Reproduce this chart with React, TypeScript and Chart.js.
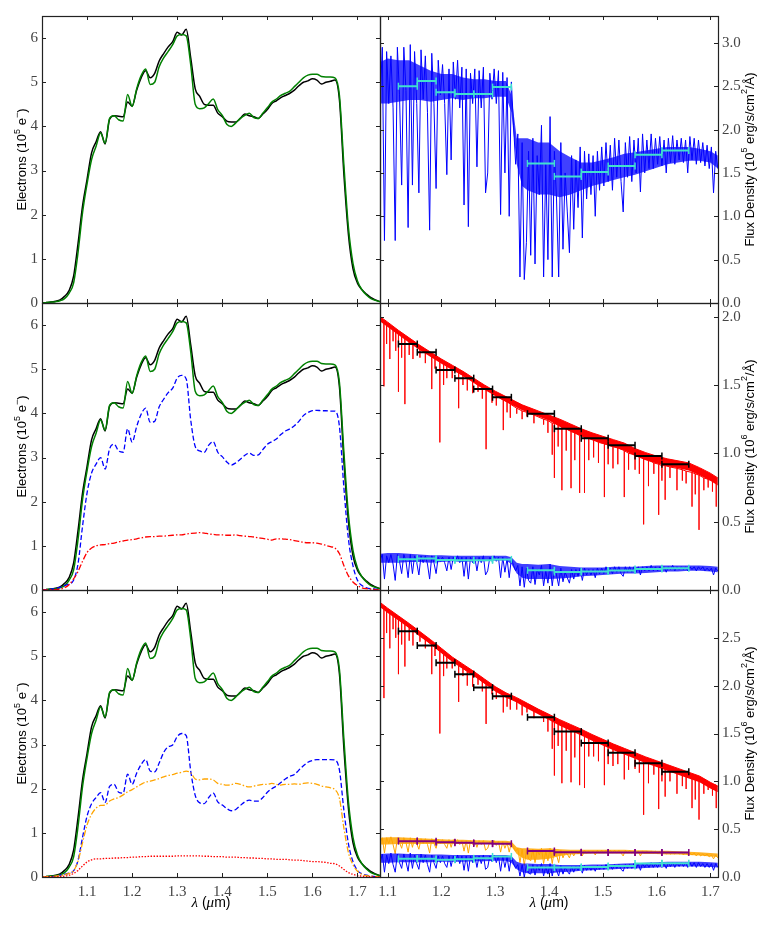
import React, { useEffect, useRef } from 'react';
import { Chart, registerables } from 'chart.js';

Chart.register(...registerables);

// ---- left column: detector electrons vs wavelength (1e5 e-) ----
const WAVE_E = [
  1.0, 1.01, 1.02, 1.03, 1.04, 1.05, 1.06, 1.07, 1.08, 1.09,
  1.1, 1.11, 1.12, 1.13, 1.14, 1.15, 1.16, 1.17, 1.18, 1.19,
  1.2, 1.21, 1.22, 1.23, 1.24, 1.25, 1.26, 1.27, 1.28, 1.29,
  1.3, 1.31, 1.32, 1.33, 1.34, 1.35, 1.36, 1.37, 1.38, 1.39,
  1.4, 1.41, 1.42, 1.43, 1.44, 1.45, 1.46, 1.47, 1.48, 1.49,
  1.5, 1.51, 1.52, 1.53, 1.54, 1.55, 1.56, 1.57, 1.58, 1.59,
  1.6, 1.61, 1.62, 1.63, 1.64, 1.65, 1.66, 1.67, 1.68, 1.69,
  1.7, 1.71, 1.72, 1.73, 1.74, 1.75,
];

const OBSERVED = [
  0.0, 0.01, 0.02, 0.04, 0.07, 0.15, 0.28, 0.6, 1.35, 2.2,
  2.8, 3.4, 3.65, 3.88, 3.6, 4.16, 4.24, 4.23, 4.22, 4.55,
  4.46, 4.82, 5.1, 5.26, 5.1, 5.2, 5.48, 5.65, 5.8, 5.92,
  6.13, 6.07, 6.2, 5.55, 4.85, 4.68, 4.5, 4.48, 4.48, 4.3,
  4.22, 4.12, 4.1, 4.1, 4.18, 4.28, 4.24, 4.22, 4.18, 4.28,
  4.38, 4.52, 4.58, 4.65, 4.7, 4.75, 4.82, 4.92, 5.0, 5.03,
  5.08, 5.05, 4.96, 5.0, 5.02, 5.05, 4.6, 2.9, 1.55, 0.78,
  0.45, 0.3, 0.2, 0.12, 0.07, 0.03,
];

const MODEL = [
  0.0, 0.01, 0.02, 0.03, 0.05, 0.1, 0.22, 0.45, 1.15, 2.05,
  2.7, 3.25, 3.55, 3.85, 3.62, 4.18, 4.24, 4.15, 4.12, 4.72,
  4.45, 4.85, 5.15, 5.3, 4.95, 5.0, 5.35, 5.55, 5.7, 5.85,
  6.05, 6.08, 6.05, 5.4, 4.5, 4.4, 4.42, 4.52, 4.62, 4.38,
  4.25, 4.05, 4.0, 4.08, 4.18, 4.25, 4.3, 4.2, 4.18, 4.3,
  4.42, 4.55, 4.62, 4.7, 4.75, 4.8, 4.9, 5.0, 5.1, 5.16,
  5.18, 5.18, 5.13, 5.12, 5.12, 5.1, 4.7, 3.1, 1.7, 0.9,
  0.5, 0.3, 0.18, 0.1, 0.06, 0.03,
];

const STAR_B = [
  0.0, 0.01, 0.02, 0.03, 0.06, 0.1, 0.14, 0.22, 0.6, 1.45,
  2.2, 2.65, 2.85, 3.0, 2.74, 3.2, 3.3, 3.15, 3.12, 3.65,
  3.35, 3.7, 3.98, 4.12, 3.8, 3.82, 4.15, 4.32, 4.47, 4.57,
  4.8, 4.86, 4.78, 3.85, 3.25, 3.15, 3.12, 3.28, 3.36, 3.12,
  3.02, 2.9, 2.83, 2.88, 2.96, 3.05, 3.1, 3.05, 3.06, 3.18,
  3.3, 3.36, 3.42, 3.52, 3.6, 3.65, 3.72, 3.82, 3.95, 4.02,
  4.06, 4.07, 4.06, 4.06, 4.05, 4.05, 3.7, 2.3, 1.15, 0.55,
  0.22, 0.1, 0.05, 0.03, 0.02, 0.01,
];

const COMPANION_B = [
  0.0, 0.0, 0.01, 0.01, 0.02, 0.05, 0.12, 0.25, 0.42, 0.65,
  0.85, 0.95, 1.0, 1.02, 1.03, 1.05, 1.06, 1.09, 1.11, 1.13,
  1.14, 1.16, 1.18, 1.2, 1.21, 1.21, 1.22, 1.22, 1.23, 1.24,
  1.25, 1.25, 1.27, 1.28, 1.29, 1.3, 1.29, 1.27, 1.26, 1.25,
  1.25, 1.24, 1.24, 1.25, 1.23, 1.22, 1.21, 1.2, 1.18, 1.17,
  1.15, 1.13, 1.16, 1.16, 1.15, 1.14, 1.12, 1.1, 1.08, 1.07,
  1.07, 1.06, 1.04, 1.01, 0.98, 0.95, 0.82, 0.55, 0.32, 0.18,
  0.1, 0.05, 0.03, 0.02, 0.01, 0.0,
];

const STAR_C = [
  0.0, 0.01, 0.01, 0.02, 0.04, 0.06, 0.09, 0.14, 0.38, 0.9,
  1.38, 1.66, 1.8, 1.91, 1.69, 2.05, 2.1, 1.92, 1.9, 2.33,
  2.1, 2.35, 2.55, 2.66, 2.4, 2.38, 2.58, 2.82, 2.95, 2.99,
  3.18, 3.25, 3.2, 2.4, 1.85, 1.68, 1.66, 1.8, 1.9, 1.7,
  1.63, 1.55, 1.5, 1.53, 1.62, 1.7, 1.74, 1.72, 1.72, 1.8,
  1.92, 2.0, 2.06, 2.14, 2.22, 2.28, 2.32, 2.42, 2.52, 2.6,
  2.64, 2.66, 2.66, 2.66, 2.66, 2.65, 2.42, 1.5, 0.75, 0.35,
  0.15, 0.07, 0.04, 0.02, 0.01, 0.01,
];

const COMPANION_C = [
  0.0, 0.01, 0.01, 0.02, 0.03, 0.05, 0.08, 0.14, 0.36, 0.78,
  1.18, 1.42, 1.56, 1.62, 1.63, 1.72, 1.77, 1.8, 1.86, 1.93,
  1.98, 2.04, 2.1, 2.15, 2.17, 2.2, 2.23, 2.27, 2.3, 2.32,
  2.35, 2.37, 2.4, 2.36, 2.22, 2.2, 2.22, 2.22, 2.2, 2.12,
  2.1, 2.08, 2.09, 2.12, 2.1, 2.06, 2.04, 2.06, 2.08, 2.1,
  2.1, 2.12, 2.1, 2.08, 2.1, 2.1, 2.11, 2.1, 2.12, 2.13,
  2.12, 2.1, 2.06, 2.04, 2.02, 1.98, 1.78, 1.1, 0.55, 0.28,
  0.13, 0.06, 0.03, 0.02, 0.01, 0.0,
];

const THIRD_C = [
  0.0, 0.0, 0.0, 0.0, 0.01, 0.02, 0.04, 0.08, 0.15, 0.25,
  0.34, 0.39, 0.41, 0.41, 0.42, 0.42, 0.43, 0.43, 0.44, 0.44,
  0.45, 0.45, 0.46, 0.46, 0.47, 0.47, 0.47, 0.47, 0.47, 0.47,
  0.48, 0.48, 0.48, 0.48, 0.48, 0.48, 0.47, 0.47, 0.46, 0.46,
  0.46, 0.45, 0.45, 0.45, 0.44, 0.44, 0.43, 0.43, 0.42, 0.42,
  0.41, 0.41, 0.4, 0.4, 0.4, 0.39, 0.38, 0.38, 0.37, 0.36,
  0.35, 0.35, 0.34, 0.33, 0.31, 0.3, 0.25, 0.17, 0.1, 0.06,
  0.03, 0.02, 0.01, 0.01, 0.0, 0.0,
];

// ---- right column: noisy spectra, sampled every 0.004 um from 1.086 ----
const SPEC_START = 1.086;
const SPEC_STEP = 0.004;

const TOP_BLUE = [
  2.35, 2.95, 0.72, 2.9, 2.3, 2.85, 2.25, 0.72, 2.95, 2.4,
  1.36, 2.95, 2.45, 0.87, 2.98, 1.36, 2.9, 2.3, 1.27, 2.92,
  2.35, 2.85, 2.2, 0.84, 2.88, 2.3, 1.32, 2.8, 2.4, 2.75,
  2.3, 1.48, 2.7, 1.65, 2.78, 2.35, 2.8, 2.25, 2.72, 1.13,
  2.7, 0.88, 2.65, 2.3, 2.7, 1.57, 2.68, 2.25, 2.72, 1.27,
  1.5, 2.65, 2.35, 2.7, 2.3, 2.68, 1.02, 2.66, 1.5, 2.6,
  1.0, 2.55, 2.05, 1.6, 1.95, 0.3, 1.85, 0.27, 0.7, 1.75,
  0.55, 1.9, 0.45, 1.7, 1.25, 2.05, 0.3, 1.6, 0.5, 2.15,
  0.3, 1.75, 1.2, 0.3, 1.85, 0.62, 1.5, 1.05, 0.58, 1.7,
  0.85, 1.65, 1.1, 1.8, 0.75, 1.75, 1.2, 1.72, 1.25, 1.7,
  1.0, 1.75, 1.3, 1.8, 1.35, 1.85, 1.4, 1.82, 1.3, 1.9,
  1.45, 1.88, 1.4, 1.05, 1.85, 1.45, 1.92, 1.4, 1.88, 1.5,
  1.9, 1.28, 1.95, 1.5, 1.88, 1.55, 1.95, 1.55, 1.9, 1.6,
  1.92, 1.58, 1.88, 1.5, 1.9, 1.62, 1.93, 1.6, 1.88, 1.65,
  1.9, 1.62, 1.88, 1.5, 1.92, 1.65, 1.9, 1.6, 1.88, 1.62,
  1.85, 1.58, 1.82, 1.55, 1.8, 1.27, 1.75, 1.55,
];

const MID_BLUE = [
  0.22, 0.26, 0.08, 0.25, 0.2, 0.26, 0.19, 0.07, 0.26, 0.21,
  0.12, 0.26, 0.21, 0.09, 0.26, 0.12, 0.25, 0.2, 0.11, 0.25,
  0.2, 0.25, 0.19, 0.08, 0.25, 0.2, 0.12, 0.24, 0.21, 0.24,
  0.2, 0.14, 0.24, 0.15, 0.24, 0.21, 0.25, 0.2, 0.24, 0.1,
  0.24, 0.08, 0.24, 0.2, 0.24, 0.14, 0.24, 0.2, 0.25, 0.11,
  0.14, 0.24, 0.21, 0.25, 0.21, 0.24, 0.09, 0.24, 0.13, 0.23,
  0.09, 0.23, 0.18, 0.14, 0.18, 0.03, 0.17, 0.02, 0.16, 0.07,
  0.05, 0.17, 0.04, 0.15, 0.11, 0.18, 0.03, 0.14, 0.05, 0.19,
  0.03, 0.16, 0.11, 0.03, 0.16, 0.06, 0.13, 0.09, 0.05, 0.15,
  0.08, 0.15, 0.1, 0.16, 0.07, 0.16, 0.11, 0.15, 0.11, 0.15,
  0.09, 0.16, 0.12, 0.16, 0.12, 0.17, 0.13, 0.16, 0.12, 0.17,
  0.13, 0.17, 0.12, 0.1, 0.17, 0.13, 0.17, 0.13, 0.17, 0.13,
  0.17, 0.11, 0.17, 0.14, 0.17, 0.14, 0.18, 0.14, 0.17, 0.14,
  0.17, 0.14, 0.17, 0.13, 0.17, 0.15, 0.18, 0.14, 0.17, 0.15,
  0.17, 0.15, 0.17, 0.14, 0.17, 0.15, 0.17, 0.14, 0.17, 0.15,
  0.17, 0.14, 0.16, 0.14, 0.16, 0.11, 0.16, 0.14,
];

const BOT_ORANGE = [
  0.36, 0.41, 0.25, 0.41, 0.35, 0.42, 0.34, 0.24, 0.41, 0.36,
  0.3, 0.41, 0.36, 0.26, 0.41, 0.31, 0.4, 0.35, 0.29, 0.4,
  0.35, 0.4, 0.34, 0.25, 0.4, 0.35, 0.3, 0.39, 0.35, 0.39,
  0.34, 0.3, 0.39, 0.31, 0.39, 0.35, 0.39, 0.34, 0.38, 0.27,
  0.38, 0.25, 0.38, 0.34, 0.38, 0.31, 0.38, 0.34, 0.38, 0.28,
  0.3, 0.37, 0.34, 0.38, 0.33, 0.37, 0.26, 0.37, 0.3, 0.36,
  0.26, 0.36, 0.31, 0.27, 0.3, 0.15, 0.29, 0.12, 0.28, 0.19,
  0.17, 0.29, 0.15, 0.28, 0.23, 0.3, 0.14, 0.27, 0.17, 0.3,
  0.14, 0.28, 0.23, 0.15, 0.28, 0.2, 0.26, 0.24, 0.2, 0.27,
  0.22, 0.27, 0.24, 0.28, 0.22, 0.28, 0.25, 0.27, 0.25, 0.27,
  0.23, 0.28, 0.25, 0.28, 0.25, 0.28, 0.25, 0.28, 0.25, 0.28,
  0.25, 0.28, 0.25, 0.22, 0.28, 0.25, 0.28, 0.25, 0.27, 0.25,
  0.27, 0.22, 0.27, 0.25, 0.27, 0.25, 0.27, 0.25, 0.27, 0.24,
  0.27, 0.24, 0.27, 0.24, 0.26, 0.24, 0.26, 0.24, 0.26, 0.24,
  0.26, 0.23, 0.26, 0.23, 0.25, 0.23, 0.25, 0.22, 0.25, 0.22,
  0.24, 0.22, 0.24, 0.21, 0.23, 0.19, 0.23, 0.2,
];

const BOT_BLUE = [
  0.15, 0.24, 0.05, 0.23, 0.14, 0.25, 0.13, 0.05, 0.24, 0.15,
  0.09, 0.24, 0.16, 0.06, 0.25, 0.09, 0.23, 0.14, 0.08, 0.24,
  0.15, 0.23, 0.13, 0.05, 0.23, 0.15, 0.09, 0.22, 0.15, 0.22,
  0.14, 0.1, 0.22, 0.11, 0.22, 0.15, 0.23, 0.14, 0.22, 0.07,
  0.22, 0.06, 0.22, 0.15, 0.22, 0.1, 0.22, 0.14, 0.23, 0.08,
  0.1, 0.22, 0.16, 0.23, 0.15, 0.22, 0.06, 0.22, 0.1, 0.21,
  0.06, 0.21, 0.14, 0.09, 0.13, 0.01, 0.13, 0.0, 0.12, 0.04,
  0.03, 0.13, 0.02, 0.12, 0.07, 0.14, 0.01, 0.11, 0.03, 0.14,
  0.01, 0.12, 0.07, 0.01, 0.12, 0.03, 0.1, 0.06, 0.03, 0.11,
  0.05, 0.11, 0.07, 0.12, 0.04, 0.12, 0.07, 0.11, 0.07, 0.11,
  0.06, 0.12, 0.08, 0.12, 0.08, 0.13, 0.09, 0.12, 0.08, 0.13,
  0.09, 0.13, 0.08, 0.06, 0.13, 0.09, 0.13, 0.09, 0.14, 0.09,
  0.14, 0.07, 0.14, 0.1, 0.14, 0.1, 0.15, 0.1, 0.14, 0.1,
  0.15, 0.1, 0.14, 0.09, 0.15, 0.11, 0.15, 0.1, 0.15, 0.11,
  0.15, 0.11, 0.15, 0.1, 0.15, 0.11, 0.15, 0.1, 0.15, 0.11,
  0.14, 0.1, 0.14, 0.1, 0.14, 0.07, 0.14, 0.1,
];

// ---- dense part of each spectrum: upper / lower envelope ----
const BAND_WAVE = [
  1.086, 1.1, 1.12, 1.14, 1.16, 1.18, 1.2, 1.22, 1.24, 1.26, 1.28, 1.3, 1.32,
  1.33, 1.34, 1.35, 1.36, 1.38, 1.4, 1.42, 1.44, 1.46, 1.48, 1.5, 1.52,
  1.54, 1.56, 1.58, 1.6, 1.62, 1.64, 1.66, 1.68, 1.7, 1.714,
];

const TOP_BLUE_HI = [
  2.78, 2.82, 2.8, 2.8, 2.74, 2.68, 2.64, 2.64, 2.6, 2.58, 2.58, 2.56, 2.56,
  2.4, 1.9, 1.9, 1.9, 1.85, 1.85, 1.75, 1.68, 1.62, 1.62, 1.65, 1.68,
  1.72, 1.74, 1.76, 1.78, 1.8, 1.8, 1.8, 1.78, 1.75, 1.7,
];
const TOP_BLUE_LO = [
  2.3, 2.3, 2.32, 2.34, 2.34, 2.32, 2.34, 2.36, 2.34, 2.36, 2.36, 2.38, 2.38,
  2.2, 1.6, 1.35, 1.3, 1.25, 1.25, 1.22, 1.25, 1.3, 1.35, 1.38, 1.42,
  1.45, 1.48, 1.52, 1.56, 1.6, 1.62, 1.64, 1.64, 1.62, 1.55,
];

const MID_RED_HI = [
  2.0, 1.96, 1.9, 1.845, 1.79, 1.74, 1.69, 1.645, 1.6, 1.55, 1.5, 1.455, 1.415,
  1.395, 1.375, 1.355, 1.34, 1.31, 1.28, 1.25, 1.215, 1.18, 1.15, 1.125, 1.1,
  1.075, 1.035, 1.005, 0.98, 0.96, 0.945, 0.93, 0.895, 0.855, 0.82,
];
const MID_RED_LO = [
  1.965, 1.925, 1.865, 1.81, 1.755, 1.705, 1.655, 1.61, 1.565, 1.515, 1.465, 1.42, 1.375,
  1.355, 1.335, 1.315, 1.3, 1.27, 1.24, 1.195, 1.16, 1.125, 1.095, 1.07, 1.045,
  1.02, 0.98, 0.95, 0.925, 0.905, 0.89, 0.875, 0.84, 0.8, 0.765,
];

const MID_BLUE_HI = [
  0.265, 0.27, 0.27, 0.265, 0.26, 0.255, 0.255, 0.25, 0.25, 0.25, 0.25, 0.25, 0.25,
  0.24, 0.2, 0.19, 0.19, 0.185, 0.19, 0.175, 0.17, 0.165, 0.165, 0.165, 0.17,
  0.17, 0.17, 0.175, 0.18, 0.18, 0.18, 0.18, 0.18, 0.175, 0.17,
];
const MID_BLUE_LO = [
  0.2, 0.2, 0.2, 0.205, 0.205, 0.2, 0.205, 0.21, 0.205, 0.21, 0.21, 0.215, 0.215,
  0.19, 0.12, 0.09, 0.08, 0.08, 0.08, 0.085, 0.09, 0.1, 0.105, 0.11, 0.115,
  0.12, 0.12, 0.125, 0.13, 0.135, 0.135, 0.14, 0.14, 0.135, 0.13,
];

const BOT_RED_HI = [
  2.87, 2.81, 2.73, 2.65, 2.565, 2.48, 2.39, 2.3, 2.225, 2.15, 2.07, 1.99, 1.925,
  1.9, 1.875, 1.845, 1.815, 1.755, 1.7, 1.645, 1.595, 1.545, 1.49, 1.44, 1.39,
  1.345, 1.3, 1.255, 1.215, 1.175, 1.135, 1.095, 1.055, 0.99, 0.95,
];
const BOT_RED_LO = [
  2.82, 2.76, 2.68, 2.6, 2.515, 2.43, 2.34, 2.25, 2.175, 2.1, 2.02, 1.94, 1.875,
  1.85, 1.825, 1.79, 1.76, 1.7, 1.64, 1.58, 1.53, 1.48, 1.425, 1.375, 1.325,
  1.28, 1.235, 1.19, 1.15, 1.11, 1.07, 1.03, 0.99, 0.925, 0.885,
];

const BOT_ORANGE_HI = [
  0.41, 0.415, 0.415, 0.41, 0.405, 0.4, 0.395, 0.39, 0.39, 0.385, 0.385, 0.38, 0.38,
  0.37, 0.31, 0.3, 0.3, 0.295, 0.3, 0.29, 0.285, 0.285, 0.285, 0.285, 0.285,
  0.285, 0.28, 0.28, 0.275, 0.275, 0.27, 0.265, 0.26, 0.25, 0.245,
];
const BOT_ORANGE_LO = [
  0.34, 0.34, 0.345, 0.345, 0.345, 0.345, 0.345, 0.345, 0.345, 0.345, 0.345, 0.345, 0.345,
  0.32, 0.24, 0.2, 0.18, 0.18, 0.19, 0.22, 0.235, 0.24, 0.245, 0.245, 0.245,
  0.245, 0.245, 0.24, 0.24, 0.235, 0.235, 0.23, 0.225, 0.215, 0.21,
];

const BOT_BLUE_HI = [
  0.24, 0.245, 0.245, 0.24, 0.24, 0.235, 0.235, 0.23, 0.23, 0.23, 0.23, 0.23, 0.23,
  0.22, 0.16, 0.14, 0.14, 0.135, 0.135, 0.125, 0.125, 0.125, 0.13, 0.13, 0.135,
  0.14, 0.145, 0.15, 0.155, 0.16, 0.16, 0.16, 0.16, 0.155, 0.15,
];
const BOT_BLUE_LO = [
  0.15, 0.15, 0.155, 0.155, 0.155, 0.155, 0.16, 0.16, 0.16, 0.165, 0.165, 0.17, 0.17,
  0.15, 0.08, 0.05, 0.04, 0.04, 0.04, 0.05, 0.055, 0.065, 0.07, 0.075, 0.08,
  0.085, 0.09, 0.095, 0.1, 0.105, 0.11, 0.11, 0.11, 0.105, 0.1,
];

// ---- absorption lines of the bright source: [wavelength, band level, line bottom] ----
const MID_RED_LINES = [
  [1.093, 1.96, 1.49], [1.098, 1.95, 1.8], [1.104, 1.93, 1.69], [1.11, 1.92, 1.82], [1.115, 1.9, 1.75],
  [1.12, 1.88, 1.45], [1.126, 1.87, 1.7], [1.132, 1.85, 1.36], [1.14, 1.83, 1.72], [1.147, 1.81, 1.69],
  [1.16, 1.77, 1.7], [1.17, 1.74, 1.66], [1.182, 1.71, 1.47], [1.188, 1.7, 1.62], [1.197, 1.67, 1.08],
  [1.204, 1.66, 1.5], [1.21, 1.64, 1.55], [1.22, 1.62, 1.55], [1.232, 1.59, 1.33], [1.24, 1.57, 1.5],
  [1.248, 1.55, 1.46], [1.258, 1.53, 1.44], [1.268, 1.5, 1.45], [1.276, 1.48, 1.4], [1.283, 1.47, 1.03],
  [1.294, 1.44, 1.37], [1.302, 1.42, 1.35], [1.315, 1.39, 1.17], [1.322, 1.38, 1.3], [1.328, 1.36, 1.26],
  [1.34, 1.33, 1.29], [1.35, 1.31, 1.25], [1.359, 1.3, 1.27], [1.372, 1.28, 1.22], [1.39, 1.25, 1.21],
  [1.398, 1.24, 1.15], [1.406, 1.22, 0.99], [1.41, 1.22, 0.82], [1.417, 1.21, 1.05], [1.424, 1.19, 0.73],
  [1.432, 1.18, 1.02], [1.441, 1.16, 0.745], [1.448, 1.15, 0.95], [1.457, 1.13, 0.71], [1.466, 1.12, 0.71],
  [1.474, 1.11, 0.95], [1.483, 1.1, 0.97], [1.492, 1.08, 0.93], [1.503, 1.07, 0.68], [1.51, 1.06, 0.92],
  [1.519, 1.05, 0.89], [1.528, 1.04, 0.92], [1.54, 1.02, 0.68], [1.548, 1.0, 0.88], [1.56, 0.99, 0.88],
  [1.568, 0.98, 0.85], [1.576, 0.96, 0.48], [1.585, 0.95, 0.76], [1.595, 0.93, 0.85], [1.604, 0.92, 0.55],
  [1.61, 0.91, 0.8], [1.616, 0.91, 0.66], [1.625, 0.9, 0.82], [1.638, 0.89, 0.73], [1.648, 0.88, 0.8],
  [1.655, 0.87, 0.78], [1.666, 0.86, 0.61], [1.672, 0.85, 0.7], [1.679, 0.84, 0.44], [1.688, 0.82, 0.73],
  [1.696, 0.81, 0.75], [1.704, 0.8, 0.72], [1.711, 0.79, 0.61],
];

const BOT_RED_LINES = [
  [1.093, 2.8, 1.87], [1.098, 2.79, 2.55], [1.104, 2.76, 2.39], [1.11, 2.73, 2.59], [1.115, 2.71, 2.5],
  [1.12, 2.69, 2.12], [1.126, 2.67, 2.43], [1.132, 2.64, 2.2], [1.14, 2.61, 2.47], [1.147, 2.58, 2.42],
  [1.16, 2.52, 2.46], [1.17, 2.48, 2.39], [1.182, 2.43, 2.12], [1.188, 2.4, 2.31], [1.197, 2.36, 1.5],
  [1.204, 2.33, 2.1], [1.21, 2.3, 2.18], [1.22, 2.26, 2.18], [1.232, 2.21, 1.83], [1.24, 2.18, 2.1],
  [1.248, 2.15, 2.0], [1.258, 2.11, 1.99], [1.268, 2.08, 2.01], [1.276, 2.04, 1.94], [1.283, 2.02, 1.6],
  [1.294, 1.98, 1.91], [1.302, 1.95, 1.86], [1.315, 1.91, 1.72], [1.322, 1.89, 1.78], [1.328, 1.87, 1.75],
  [1.34, 1.84, 1.75], [1.35, 1.81, 1.69], [1.359, 1.78, 1.72], [1.372, 1.74, 1.66], [1.39, 1.69, 1.62],
  [1.398, 1.67, 1.52], [1.406, 1.65, 1.34], [1.41, 1.64, 1.06], [1.417, 1.62, 1.37], [1.424, 1.6, 0.98],
  [1.432, 1.58, 1.32], [1.441, 1.56, 0.99], [1.448, 1.54, 1.25], [1.457, 1.52, 0.96], [1.466, 1.5, 0.93],
  [1.474, 1.48, 1.26], [1.483, 1.45, 1.26], [1.492, 1.43, 1.21], [1.503, 1.4, 0.96], [1.51, 1.39, 1.18],
  [1.519, 1.36, 1.16], [1.528, 1.34, 1.18], [1.54, 1.31, 1.02], [1.548, 1.3, 1.12], [1.56, 1.27, 1.13],
  [1.568, 1.25, 1.09], [1.576, 1.23, 0.65], [1.585, 1.21, 0.98], [1.595, 1.19, 1.07], [1.604, 1.18, 0.71],
  [1.61, 1.17, 1.0], [1.616, 1.15, 0.84], [1.625, 1.14, 1.0], [1.638, 1.11, 0.87], [1.648, 1.09, 0.95],
  [1.655, 1.08, 0.92], [1.666, 1.05, 0.72], [1.672, 1.04, 0.81], [1.679, 1.03, 0.6], [1.688, 1.01, 0.87],
  [1.696, 0.99, 0.91], [1.704, 0.97, 0.85], [1.711, 0.96, 0.72],
];

// ---- binned photometry (two grisms) ----
const BIN_EDGES_A = [1.12, 1.155, 1.19, 1.225, 1.26, 1.295, 1.33];
const BIN_EDGES_B = [1.36, 1.41, 1.46, 1.51, 1.56, 1.61, 1.66];

const TOP_CYAN_BINS = [2.5, 2.56, 2.43, 2.41, 2.41, 2.49, 1.61, 1.46, 1.51, 1.58, 1.71, 1.76];
const MID_BLACK_BINS = [1.8, 1.74, 1.61, 1.55, 1.47, 1.41, 1.29, 1.18, 1.11, 1.06, 0.98, 0.92];
const MID_CYAN_BINS = [0.225, 0.23, 0.219, 0.217, 0.217, 0.224, 0.144, 0.131, 0.136, 0.142, 0.153, 0.159];
const BOT_BLACK_BINS = [2.57, 2.42, 2.24, 2.12, 1.98, 1.89, 1.67, 1.52, 1.4, 1.3, 1.19, 1.1];
const BOT_PURPLE_BINS = [0.375, 0.375, 0.364, 0.357, 0.35, 0.348, 0.272, 0.258, 0.257, 0.257, 0.257, 0.257];
const BOT_CYAN_BINS = [0.19, 0.19, 0.18, 0.185, 0.195, 0.215, 0.1, 0.1, 0.105, 0.115, 0.14, 0.143];

const X_TICKS = [1.1, 1.2, 1.3, 1.4, 1.5, 1.6, 1.7];
const LEFT_Y_TICKS = [0, 1, 2, 3, 4, 5, 6];
const TOP_RIGHT_TICKS = [0, 0.5, 1.0, 1.5, 2.0, 2.5, 3.0];
const MID_RIGHT_TICKS = [0, 0.5, 1.0, 1.5, 2.0];
const BOT_RIGHT_TICKS = [0, 0.5, 1.0, 1.5, 2.0, 2.5];

// ---- layout ----
const COL_LEFT = [42, 380];
const ROW_TOP = [16, 303, 590];
const PLOT_W = 338;
const PLOT_H = 287;

const SANS = '"Liberation Sans", Arial, sans-serif';
const SERIF = '"Liberation Serif", "DejaVu Serif", serif';

const SPEC_WAVE = TOP_BLUE.map((_, i) => SPEC_START + SPEC_STEP * i);

type Seg = { t: string; font: string; dy?: number };

const sup = (t: string): Seg => ({ t, font: `9px ${SANS}`, dy: -5 });
const txt = (t: string): Seg => ({ t, font: `13px ${SANS}` });

const electronsTitle: Seg[] = [txt('Electrons (10'), sup('5'), txt(' e'), sup('\u2212'), txt(')')];
const fluxTitle = (p: string): Seg[] => [txt('Flux Density (10'), sup(p), txt(' erg/s/cm'), sup('2'), txt('/\u00c5)')];
const lambdaTitle: Seg[] = [
  { t: '\u03bb', font: `italic 15px ${SERIF}` },
  { t: ' (', font: `14px ${SANS}` },
  { t: '\u03bc', font: `italic 15px ${SERIF}` },
  { t: 'm)', font: `14px ${SANS}` },
];

function drawRich(ctx: CanvasRenderingContext2D, segs: Seg[], cx: number, cy: number, rot: number) {
  ctx.save();
  ctx.translate(cx, cy);
  ctx.rotate(rot);
  ctx.fillStyle = '#000';
  ctx.textBaseline = 'middle';
  ctx.textAlign = 'left';
  let total = 0;
  for (const s of segs) {
    ctx.font = s.font;
    total += ctx.measureText(s.t).width;
  }
  let x = -total / 2;
  for (const s of segs) {
    ctx.font = s.font;
    ctx.fillText(s.t, x, s.dy ?? 0);
    x += ctx.measureText(s.t).width;
  }
  ctx.restore();
}

const framePlugin = {
  id: 'frame',
  afterDatasetsDraw(chart: any) {
    const { ctx, chartArea: a, scales } = chart;
    ctx.save();
    ctx.strokeStyle = '#222';
    ctx.lineWidth = 1;
    ctx.beginPath();
    for (const t of scales.x.ticks) {
      const px = Math.round(scales.x.getPixelForValue(t.value)) + 0.5;
      ctx.moveTo(px, a.bottom);
      ctx.lineTo(px, a.bottom - 4);
      ctx.moveTo(px, a.top);
      ctx.lineTo(px, a.top + 4);
    }
    for (const t of scales.y.ticks) {
      const py = Math.round(scales.y.getPixelForValue(t.value)) + 0.5;
      ctx.moveTo(a.left, py);
      ctx.lineTo(a.left + 4, py);
      ctx.moveTo(a.right, py);
      ctx.lineTo(a.right - 4, py);
    }
    ctx.stroke();
    ctx.lineWidth = 1.2;
    ctx.strokeRect(a.left + 0.5, a.top + 0.5, a.right - a.left, a.bottom - a.top);
    ctx.restore();
  },
  afterDraw(chart: any, _args: any, opts: any) {
    const { ctx, chartArea: a } = chart;
    const cy = (a.top + a.bottom) / 2;
    if (opts.side === 'left') drawRich(ctx, opts.yTitle, a.left - 19.5, cy, -Math.PI / 2);
    else drawRich(ctx, opts.yTitle, a.right + 32, cy, -Math.PI / 2);
    if (opts.xTitle) drawRich(ctx, lambdaTitle, (a.left + a.right) / 2, a.bottom + 26, 0);
  },
};

const curve = (xs: number[], ys: number[], color: string, width: number, dash: number[] = [], smooth = true) => ({
  data: xs.map((x, i) => ({ x, y: ys[i] })),
  borderColor: color,
  borderWidth: width,
  borderDash: dash,
  pointRadius: 0,
  fill: false,
  cubicInterpolationMode: smooth ? 'monotone' : 'default',
  tension: 0,
});

// filled envelope: two datasets, the second fills back to the first
const band = (hi: number[], lo: number[], edge: number, fillColor: string) => [
  {
    data: BAND_WAVE.map((x, i) => ({ x, y: hi[i] })),
    borderColor: fillColor,
    borderWidth: edge,
    pointRadius: 0,
    fill: false,
    tension: 0,
  },
  {
    data: BAND_WAVE.map((x, i) => ({ x, y: lo[i] })),
    borderColor: fillColor,
    borderWidth: 0,
    backgroundColor: fillColor,
    pointRadius: 0,
    fill: '-1',
    tension: 0,
  },
];

const lines = (list: number[][], color: string) => ({
  data: list.flatMap(([x, top, bottom]) => [
    { x, y: top },
    { x, y: bottom },
    { x, y: top },
  ]),
  borderColor: color,
  borderWidth: 1,
  pointRadius: 0,
  fill: false,
  tension: 0,
});

const binSet = (vals: number[], color: string) => {
  const data: { x: number; y: number | null }[] = [];
  let k = 0;
  for (const edges of [BIN_EDGES_A, BIN_EDGES_B]) {
    for (let j = 0; j < edges.length - 1; j++) {
      data.push({ x: edges[j], y: vals[k] }, { x: edges[j + 1], y: vals[k] }, { x: edges[j + 1], y: null });
      k++;
    }
  }
  return {
    data,
    borderColor: color,
    borderWidth: 2,
    pointStyle: 'line',
    rotation: 90,
    pointRadius: 3.5,
    pointBorderColor: color,
    pointBorderWidth: 1.5,
    spanGaps: false,
    fill: false,
    tension: 0,
  };
};

// later entries are painted on top of earlier ones
const stacked = (list: any[]) => list.map((d, i) => ({ ...d, order: list.length - i }));

type PanelDef = {
  col: number;
  row: number;
  yMax: number;
  yTicks: number[];
  yTitle: Seg[];
  datasets: any[];
};

const BLUE = '#0000ff';
const BLUE_FILL = 'rgba(0, 0, 255, 0.75)';
const RED = '#ff0000';
const ORANGE = '#ffa500';
const ORANGE_FILL = 'rgba(255, 165, 0, 0.85)';
const CYAN = '#40e0d0';

const PANELS: PanelDef[] = [
  {
    col: 0, row: 0, yMax: 6.5, yTicks: LEFT_Y_TICKS, yTitle: electronsTitle,
    datasets: stacked([curve(WAVE_E, OBSERVED, '#000000', 1.5), curve(WAVE_E, MODEL, '#008000', 1.5)]),
  },
  {
    col: 1, row: 0, yMax: 3.31, yTicks: TOP_RIGHT_TICKS, yTitle: fluxTitle('5'),
    datasets: stacked([
      ...band(TOP_BLUE_HI, TOP_BLUE_LO, 0, BLUE_FILL),
      curve(SPEC_WAVE, TOP_BLUE, BLUE, 1, [], false),
      binSet(TOP_CYAN_BINS, CYAN),
    ]),
  },
  {
    col: 0, row: 1, yMax: 6.5, yTicks: LEFT_Y_TICKS, yTitle: electronsTitle,
    datasets: stacked([
      curve(WAVE_E, OBSERVED, '#000000', 1.5),
      curve(WAVE_E, MODEL, '#008000', 1.5),
      curve(WAVE_E, STAR_B, BLUE, 1.3, [5, 2.5]),
      curve(WAVE_E, COMPANION_B, RED, 1.3, [6, 2, 1.5, 2]),
    ]),
  },
  {
    col: 1, row: 1, yMax: 2.1, yTicks: MID_RIGHT_TICKS, yTitle: fluxTitle('6'),
    datasets: stacked([
      ...band(MID_RED_HI, MID_RED_LO, 1, RED),
      lines(MID_RED_LINES, RED),
      binSet(MID_BLACK_BINS, '#000000'),
      ...band(MID_BLUE_HI, MID_BLUE_LO, 0, BLUE_FILL),
      curve(SPEC_WAVE, MID_BLUE, BLUE, 1, [], false),
      binSet(MID_CYAN_BINS, CYAN),
    ]),
  },
  {
    col: 0, row: 2, yMax: 6.5, yTicks: LEFT_Y_TICKS, yTitle: electronsTitle,
    datasets: stacked([
      curve(WAVE_E, OBSERVED, '#000000', 1.5),
      curve(WAVE_E, MODEL, '#008000', 1.5),
      curve(WAVE_E, STAR_C, BLUE, 1.3, [5, 2.5]),
      curve(WAVE_E, COMPANION_C, ORANGE, 1.3, [6, 2, 1.5, 2]),
      curve(WAVE_E, THIRD_C, RED, 1.3, [1.5, 1.5]),
    ]),
  },
  {
    col: 1, row: 2, yMax: 3.0, yTicks: BOT_RIGHT_TICKS, yTitle: fluxTitle('6'),
    datasets: stacked([
      ...band(BOT_RED_HI, BOT_RED_LO, 1, RED),
      lines(BOT_RED_LINES, RED),
      binSet(BOT_BLACK_BINS, '#000000'),
      ...band(BOT_ORANGE_HI, BOT_ORANGE_LO, 0, ORANGE_FILL),
      curve(SPEC_WAVE, BOT_ORANGE, ORANGE, 1, [], false),
      binSet(BOT_PURPLE_BINS, '#800080'),
      ...band(BOT_BLUE_HI, BOT_BLUE_LO, 0, BLUE_FILL),
      curve(SPEC_WAVE, BOT_BLUE, BLUE, 1, [], false),
      binSet(BOT_CYAN_BINS, CYAN),
    ]),
  },
];

function Panel({ def }: { def: PanelDef }) {
  const canvas = useRef<HTMLCanvasElement>(null);
  const left = def.col === 0;
  const bottomRow = def.row === 2;
  const padL = left ? 0 : 8;
  const padR = left ? 6 : 0;
  const axisW = left ? 42 : 54;
  const padT = 16;
  const axisH = bottomRow ? 50 : 16;
  const width = left ? axisW + PLOT_W + padR : padL + PLOT_W + axisW;
  const height = padT + PLOT_H + axisH;
  const cssLeft = left ? COL_LEFT[0] - axisW : COL_LEFT[1] - padL;
  const cssTop = ROW_TOP[def.row] - padT;

  useEffect(() => {
    if (!canvas.current) return;
    const tickFont = { family: SERIF, size: 15 };
    const chart = new Chart(canvas.current, {
      type: 'line',
      data: { datasets: def.datasets },
      plugins: [framePlugin],
      options: {
        animation: false,
        responsive: false,
        events: [],
        layout: { padding: { top: padT, bottom: 0, left: padL, right: padR } },
        plugins: {
          legend: { display: false },
          tooltip: { enabled: false },
          frame: { side: left ? 'left' : 'right', yTitle: def.yTitle, xTitle: bottomRow },
        } as any,
        scales: {
          x: {
            type: 'linear',
            min: left ? 1.0 : 1.0857,
            max: left ? 1.75 : 1.7143,
            afterBuildTicks: (s: any) => { s.ticks = X_TICKS.map((value) => ({ value })); },
            afterFit: (s: any) => { s.height = axisH; },
            grid: { display: false, drawTicks: false },
            border: { display: false },
            ticks: {
              display: bottomRow,
              padding: 6,
              font: tickFont,
              color: '#444',
              maxRotation: 0,
              autoSkip: false,
              callback: (v: any) => Number(v).toFixed(1),
            },
          },
          y: {
            type: 'linear',
            position: left ? 'left' : 'right',
            min: 0,
            max: def.yMax,
            afterBuildTicks: (s: any) => { s.ticks = def.yTicks.map((value) => ({ value })); },
            afterFit: (s: any) => { s.width = axisW; },
            grid: { display: false, drawTicks: false },
            border: { display: false },
            ticks: {
              padding: 4,
              font: tickFont,
              color: '#444',
              autoSkip: false,
              callback: (v: any) => (left ? String(v) : Number(v).toFixed(1)),
            },
          },
        },
      } as any,
    });
    return () => chart.destroy();
  }, [def]);

  return (
    <canvas
      ref={canvas}
      width={width}
      height={height}
      style={{ position: 'absolute', left: cssLeft, top: cssTop, width, height }}
    ></canvas>
  );
}

export default function App() {
  return (
    <div style={{ position: 'absolute', left: 0, top: 0, width: 772, height: 927, background: '#fff', overflow: 'hidden' }}>
      {PANELS.map((p) => (
        <Panel key={`${p.col}-${p.row}`} def={p} />
      ))}
    </div>
  );
}
